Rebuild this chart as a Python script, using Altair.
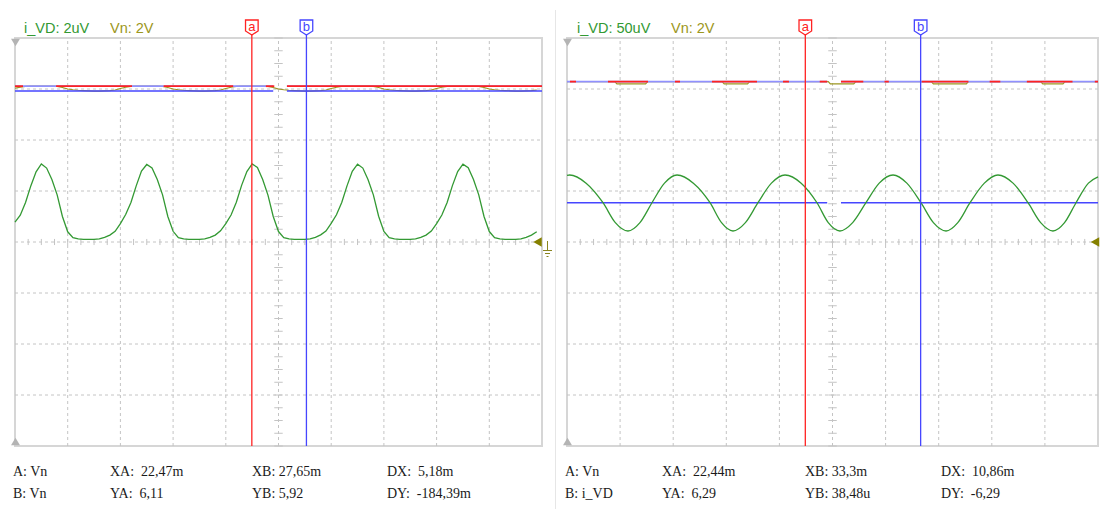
import altair as alt
import pandas as pd

# ===================== DATA =====================
# time base: 0 .. 50 ms (5 ms/div, 10 div); both panels
T_DOM = [0, 50]

# ---- left panel: i_VD (2u/div) and Vn (2 V/div), sampled every 0.5 ms ----
L_T = [round(0.5 * i, 1) for i in range(100)]
L_IVD = [
    0.78, 1.05, 1.55, 2.20, 2.75, 3.06, 2.90, 2.45, 1.85, 1.00, 0.40, 0.17, 0.12, 0.10, 0.10, 0.10, 0.12, 0.18, 0.27, 0.42,
    0.72, 1.08, 1.55, 2.20, 2.78, 3.04, 2.90, 2.45, 1.85, 1.00, 0.42, 0.17, 0.12, 0.10, 0.10, 0.10, 0.12, 0.18, 0.27, 0.44,
    0.72, 1.06, 1.56, 2.22, 2.76, 3.06, 2.92, 2.45, 1.84, 1.00, 0.41, 0.17, 0.12, 0.10, 0.10, 0.10, 0.12, 0.18, 0.28, 0.43,
    0.73, 1.07, 1.55, 2.20, 2.77, 3.05, 2.90, 2.44, 1.85, 1.01, 0.41, 0.17, 0.12, 0.10, 0.10, 0.10, 0.12, 0.18, 0.27, 0.43,
    0.72, 1.06, 1.55, 2.21, 2.76, 3.05, 2.91, 2.45, 1.85, 1.00, 0.41, 0.17, 0.12, 0.10, 0.10, 0.10, 0.12, 0.18, 0.27, 0.40,
]
L_VN = [
    6.03, 6.07, 6.10, 6.11, 6.11, 6.11, 6.11, 6.11, 6.10, 6.06, 6.00, 5.97, 5.95, 5.94, 5.93, 5.92, 5.92, 5.93, 5.94, 5.96,
    6.02, 6.07, 6.10, 6.11, 6.11, 6.11, 6.11, 6.11, 6.10, 6.06, 6.00, 5.97, 5.95, 5.94, 5.93, 5.92, 5.92, 5.93, 5.94, 5.96,
    6.02, 6.07, 6.10, 6.11, 6.11, 6.11, 6.11, 6.11, 6.10, 6.06, 6.00, 5.97, 5.95, 5.94, 5.93, 5.92, 5.92, 5.93, 5.94, 5.96,
    6.02, 6.07, 6.10, 6.11, 6.11, 6.11, 6.11, 6.11, 6.10, 6.06, 6.00, 5.97, 5.95, 5.94, 5.93, 5.92, 5.92, 5.93, 5.94, 5.96,
    6.02, 6.07, 6.10, 6.11, 6.11, 6.11, 6.11, 6.11, 6.10, 6.06, 6.00, 5.97, 5.95, 5.94, 5.93, 5.92, 5.92, 5.93, 5.94, 5.96,
]

# ---- right panel: i_VD (50u/div) keypoints, Vn (2 V/div) keypoints ----
R_IVD_T = [0.0, 0.25, 1.8, 3.39, 4.55, 5.74, 6.87, 8.0, 9.18, 10.36, 11.9, 13.47, 14.55, 15.63, 16.8,
           17.98, 19.25, 20.53, 22.05, 23.54, 24.6, 25.7, 26.9, 28.15, 29.4, 30.7, 32.0, 33.33, 34.5,
           35.69, 36.8, 37.95, 39.3, 40.58, 42.0, 43.41, 44.6, 45.76, 46.85, 47.93, 49.1, 50.0]
R_IVD = [65.2, 65.7, 57.7, 38.5, 19.0, 10.8, 19.0, 38.5, 57.7, 65.7, 57.7, 38.5, 19.0, 10.8, 19.0,
         38.5, 57.7, 65.7, 57.7, 38.5, 19.0, 10.8, 19.0, 38.5, 57.7, 65.7, 57.7, 38.5, 19.0,
         10.8, 19.0, 38.5, 57.7, 65.7, 57.7, 38.5, 19.0, 10.8, 19.0, 38.5, 57.7, 63.8]
R_VN_T = [0, 4.5, 4.7, 7.4, 7.6, 14.6, 14.8, 17.0, 17.2, 24.6, 24.8, 27.0, 27.2,
          34.3, 34.5, 37.6, 37.8, 44.6, 44.8, 46.7, 46.9, 50]
R_VN = [6.29, 6.29, 6.20, 6.20, 6.29, 6.29, 6.20, 6.20, 6.29, 6.29, 6.20, 6.20, 6.29,
        6.29, 6.20, 6.20, 6.29, 6.29, 6.20, 6.20, 6.29, 6.29]

# ---- cursors ----
L_XA, L_XB, L_YA, L_YB = 22.47, 27.65, 6.11, 5.92          # YA,YB on Vn
R_XA, R_XB, R_YA, R_YB = 22.44, 33.3, 6.29, 38.48          # YA on Vn, YB on i_VD
# highlighted (red) pieces of the A level line, ms
L_RED_SEG = [(0, 0.76), (3.9, 11.1), (14.1, 20.7), (23.8, 24.6), (25.8, 50)]
R_RED_SEG = [(0.28, 0.85), (3.86, 7.63), (10.17, 10.64), (13.65, 17.89), (20.34, 20.9), (23.8, 24.5),
             (25.8, 27.9), (29.9, 30.3), (33.4, 37.8), (39.8, 40.8), (43.3, 47.6), (49.7, 50)]
LEVEL_SEG = [(0, 24.5), (25.8, 50)]

# ---- texts ----
L_HEAD = ["i_VD: 2uV", "Vn: 2V"]
R_HEAD = ["i_VD: 50uV", "Vn: 2V"]
L_INFO = [["A: Vn", "XA:\u00a0 22,47m", "XB: 27,65m", "DX:\u00a0 5,18m"],
          ["B: Vn", "YA:\u00a0 6,11", "YB: 5,92", "DY:\u00a0 -184,39m"]]
R_INFO = [["A: Vn", "XA:\u00a0 22,44m", "XB: 33,3m", "DX:\u00a0 10,86m"],
          ["B: i_VD", "YA:\u00a0 6,29", "YB: 38,48u", "DY:\u00a0 -6,29"]]

# ===================== STYLE / LAYOUT =====================
W, H = 1101, 509
YPIX = [446, 38]
VN_DOM = [-8, 8]
DIV_DOM = [-4, 4]
GREEN = "#339933"
OLIVE = "#9c9620"
RED = "#ff2222"
BLUE = "#4646ff"
LBLUE = "#9090ff"
GRID = "#c4c4c4"
FRAME = "#d6d6d6"
SANS = "Liberation Sans"
SERIF = "Liberation Serif"
BOX = "M-1,-1.19 L1,-1.19 L1,0.55 L0,1.19 L-1,0.55 Z"


def X(field, rng):
    return alt.X(field, type="quantitative", scale=alt.Scale(domain=T_DOM, range=rng, nice=False, zero=False), axis=None)


def Y(field, dom):
    return alt.Y(field, type="quantitative", scale=alt.Scale(domain=dom, range=YPIX, nice=False, zero=False), axis=None)


def panel(rng, t_i, v_i, i_dom, t_v, v_v, interp, xa, xb, ya, yb, yb_dom, red_seg, head, head_x, info, info_x,
          ground_x, ground_sym):
    layers = []
    # frame
    layers.append(alt.Chart(pd.DataFrame({"t0": [0], "t1": [50], "y0": [-4], "y1": [4]}))
                  .mark_rect(fillOpacity=0, stroke=FRAME, strokeWidth=2)
                  .encode(x=X("t0", rng), x2="t1", y=Y("y0", DIV_DOM), y2="y1"))
    # vertical grid
    layers.append(alt.Chart(pd.DataFrame({"t": [5, 10, 15, 20, 25, 30, 35, 40, 45], "y0": -4, "y1": 4}))
                  .mark_rule(color=GRID, strokeDash=[3, 3], strokeWidth=1)
                  .encode(x=X("t", rng), y=Y("y0", DIV_DOM), y2="y1"))
    # horizontal grid
    layers.append(alt.Chart(pd.DataFrame({"d": [-3, -2, -1, 0, 1, 2, 3], "t0": 0, "t1": 50}))
                  .mark_rule(color=GRID, strokeDash=[3, 3], strokeWidth=1)
                  .encode(y=Y("d", DIV_DOM), x=X("t0", rng), x2="t1"))
    # minor ticks on the centre lines (every 1/4 div)
    ty = [q / 4 for q in range(-16, 17)]
    layers.append(alt.Chart(pd.DataFrame({"d": ty, "t0": 24.6, "t1": 25.4}))
                  .mark_rule(color=GRID, strokeWidth=1)
                  .encode(y=Y("d", DIV_DOM), x=X("t0", rng), x2="t1"))
    tx = [q * 1.25 for q in range(1, 40)]
    layers.append(alt.Chart(pd.DataFrame({"t": tx, "y0": -0.06, "y1": 0.06}))
                  .mark_rule(color=GRID, strokeWidth=1)
                  .encode(x=X("t", rng), y=Y("y0", DIV_DOM), y2="y1"))
    # Vn trace
    layers.append(alt.Chart(pd.DataFrame({"t": t_v, "v": v_v}))
                  .mark_line(color=OLIVE, strokeWidth=1.2)
                  .encode(x=X("t", rng), y=Y("v", VN_DOM)))
    # A level line (light blue) with red highlighted pieces
    lv = pd.DataFrame({"t0": [s[0] for s in LEVEL_SEG], "t1": [s[1] for s in LEVEL_SEG], "v": ya})
    layers.append(alt.Chart(lv).mark_rule(color=LBLUE, strokeWidth=1.8)
                  .encode(x=X("t0", rng), x2="t1", y=Y("v", VN_DOM)))
    rs = pd.DataFrame({"t0": [s[0] for s in red_seg], "t1": [s[1] for s in red_seg], "v": ya})
    layers.append(alt.Chart(rs).mark_rule(color=RED, strokeWidth=1.8)
                  .encode(x=X("t0", rng), x2="t1", y=Y("v", VN_DOM)))
    # B level line (blue)
    bl = pd.DataFrame({"t0": [s[0] for s in LEVEL_SEG], "t1": [s[1] for s in LEVEL_SEG], "v": yb})
    layers.append(alt.Chart(bl).mark_rule(color=BLUE, strokeWidth=1.5)
                  .encode(x=X("t0", rng), x2="t1", y=Y("v", yb_dom)))
    # i_VD trace
    layers.append(alt.Chart(pd.DataFrame({"t": t_i, "v": v_i}))
                  .mark_line(color=GREEN, strokeWidth=1.3, interpolate=interp)
                  .encode(x=X("t", rng), y=Y("v", i_dom)))
    # vertical cursors
    cur = pd.DataFrame({"t": [xa, xb], "c": [RED, BLUE], "lab": ["a", "b"]})
    layers.append(alt.Chart(cur).mark_rule(strokeWidth=1.3)
                  .encode(x=X("t", rng), y=alt.value(35), y2=alt.value(446),
                          color=alt.Color("c:N", scale=None)))
    layers.append(alt.Chart(cur).mark_point(shape=BOX, size=159, filled=True, fill="white",
                                            strokeWidth=1.3, opacity=1, fillOpacity=1)
                  .encode(x=X("t", rng), y=alt.value(27.5), stroke=alt.Stroke("c:N", scale=None)))
    layers.append(alt.Chart(cur).mark_text(font=SANS, fontSize=13, baseline="middle", dy=0)
                  .encode(x=X("t", rng), y=alt.value(27), text="lab:N",
                          color=alt.Color("c:N", scale=None)))
    # markers: gray triangles, ground triangle
    x_left = rng[0]
    layers.append(alt.Chart(pd.DataFrame({"s": ["triangle-down", "triangle-up"], "y": [42.5, 441.5]}))
                  .mark_point(filled=True, color="#b4b4b4", size=80, opacity=1)
                  .encode(x=alt.value(x_left + 0.5), y=alt.Y("y:Q", scale=None),
                          shape=alt.Shape("s:N", scale=None)))
    layers.append(alt.Chart(pd.DataFrame({"v": [0]}))
                  .mark_point(filled=True, color="#858000", size=95, opacity=1, shape="triangle-left")
                  .encode(x=alt.value(ground_x), y=Y("v", VN_DOM)))
    if ground_sym:
        gs = pd.DataFrame({"x0": [547.5, 543, 545, 546.5], "x1": [547.5, 552, 550, 548.5],
                           "y0": [241, 250.5, 253.5, 256.5], "y1": [250.5, 250.5, 253.5, 256.5]})
        layers.append(alt.Chart(gs).mark_rule(color="#8a8420", strokeWidth=1)
                      .encode(x=alt.X("x0:Q", scale=None), x2="x1:Q",
                              y=alt.Y("y0:Q", scale=None), y2="y1:Q"))
    # header texts
    hd = pd.DataFrame({"txt": head, "x": head_x, "c": [GREEN, OLIVE]})
    layers.append(alt.Chart(hd).mark_text(font=SANS, fontSize=14.5, align="left", baseline="alphabetic")
                  .encode(x=alt.X("x:Q", scale=None), y=alt.value(33), text="txt:N",
                          color=alt.Color("c:N", scale=None)))
    # cursor read-out texts
    rows = []
    for yy, row in zip([476, 498], info):
        for cx, s in zip(info_x, row):
            rows.append({"txt": s, "x": cx, "y": yy})
    layers.append(alt.Chart(pd.DataFrame(rows)).mark_text(font=SERIF, fontSize=14, align="left",
                                                           baseline="alphabetic", color="#1a1a1a")
                  .encode(x=alt.X("x:Q", scale=None), y=alt.Y("y:Q", scale=None), text="txt:N"))
    return layers


left = panel([15, 542], L_T, L_IVD, [-8, 8], L_T, L_VN, "linear", L_XA, L_XB, L_YA, L_YB, VN_DOM,
             L_RED_SEG, L_HEAD, [24, 110], L_INFO, [13, 110, 252, 387], 537.5, True)
right = panel([567, 1098], R_IVD_T, R_IVD, [-200, 200], R_VN_T, R_VN, "monotone", R_XA, R_XB, R_YA, R_YB,
              [-200, 200], R_RED_SEG, R_HEAD, [577, 671], R_INFO, [565, 662, 805, 941], 1095, False)

sep = (alt.Chart(pd.DataFrame({"a": [0]})).mark_rule(color="#e6e6e6", strokeWidth=1)
       .encode(x=alt.value(555.5), y=alt.value(10), y2=alt.value(509)))

chart = (alt.layer(sep, *left, *right)
         .resolve_scale(x="independent", y="independent")
         .properties(width=W, height=H, padding=0,
                     autosize=alt.AutoSizeParams(type="none"), background="white")
         .configure_view(stroke=None))

chart.save("out.html", embed_options={"renderer": "svg", "actions": False})
